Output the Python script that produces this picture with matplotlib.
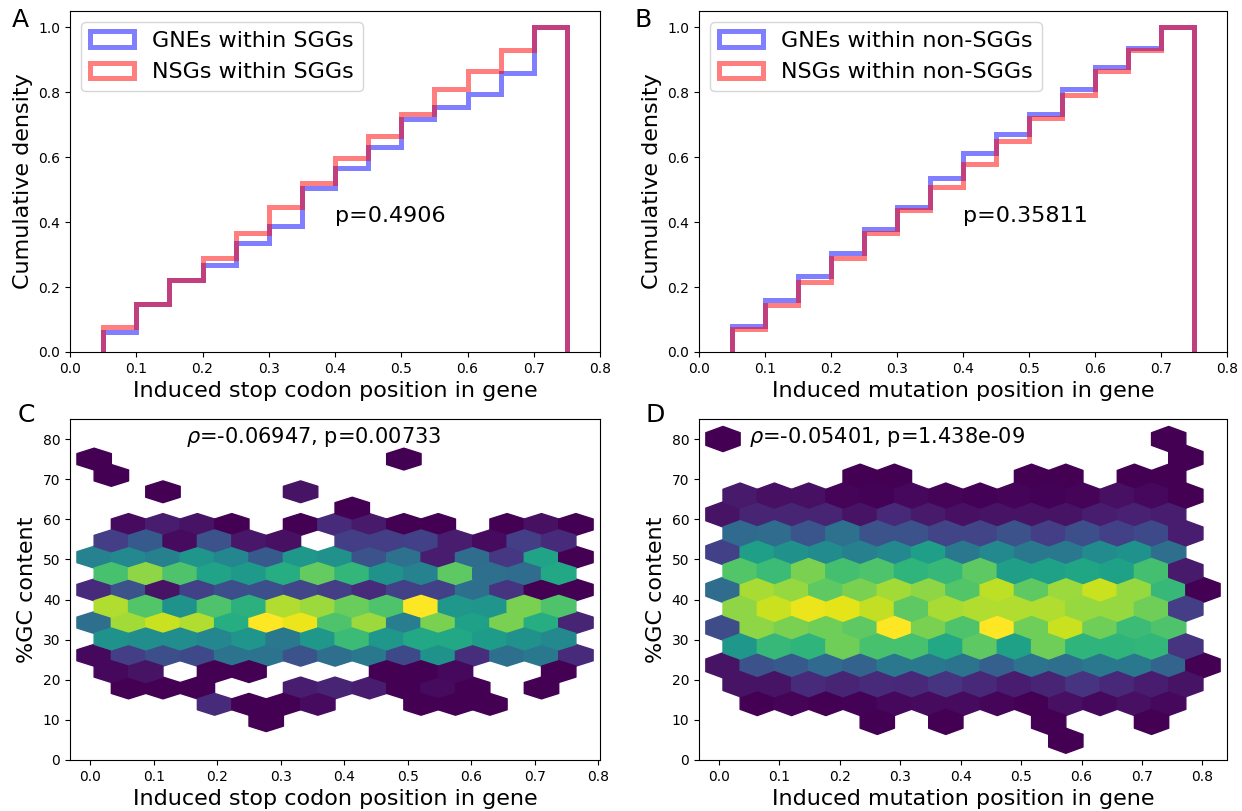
import numpy as np
import matplotlib
matplotlib.use('Agg')
import matplotlib.pyplot as plt

N = None

# ---------------- cumulative histograms (A, B) ----------------
bin_edges = [0.05, 0.10, 0.15, 0.20, 0.25, 0.30, 0.35, 0.40,
             0.45, 0.50, 0.55, 0.60, 0.65, 0.70, 0.75]

a_gne_cum = [0.062, 0.149, 0.221, 0.267, 0.337, 0.388, 0.505,
             0.567, 0.630, 0.718, 0.753, 0.796, 0.859, 1.0]
a_nsg_cum = [0.078, 0.149, 0.221, 0.290, 0.366, 0.445, 0.521,
             0.598, 0.665, 0.733, 0.809, 0.865, 0.931, 1.0]
b_gne_cum = [0.080, 0.160, 0.233, 0.305, 0.379, 0.447, 0.535,
             0.614, 0.672, 0.733, 0.811, 0.878, 0.937, 1.0]
b_nsg_cum = [0.070, 0.145, 0.216, 0.290, 0.365, 0.438, 0.509,
             0.579, 0.651, 0.721, 0.791, 0.864, 0.929, 1.0]

a_labels = ['GNEs within SGGs', 'NSGs within SGGs']
b_labels = ['GNEs within non-SGGs', 'NSGs within non-SGGs']
a_ptext = 'p=0.4906'
b_ptext = 'p=0.35811'

# ---------------- hexbin panels (C, D) ----------------
# hex cell centres (two offset lattices)
c_cols_a = [0.006, 0.060, 0.114, 0.169, 0.223, 0.277, 0.331, 0.385,
            0.440, 0.494, 0.548, 0.602, 0.656, 0.711, 0.765]
c_cols_b = [0.033, 0.087, 0.141, 0.196, 0.250, 0.304, 0.358, 0.412,
            0.467, 0.521, 0.575, 0.629, 0.683, 0.738]
c_rows_y = [75.0, 70.9, 66.8, 62.8, 58.7, 54.6, 50.5, 46.4, 42.4,
            38.3, 34.2, 30.1, 26.1, 22.0, 17.9, 13.9, 9.8]
c_extent = (0.006, 0.765, 9.8, 75.0)
c_grid = (14, 8)

# relative density per cell (top row first), None = empty
c_cells = [
    [0, N, N, N, N, N, N, N, N, 0, N, N, N, N, N],
    [0, N, N, N, N, N, N, N, N, N, N, N, N, N],
    [N, N, 0, N, N, N, 0.5, N, N, N, N, N, N, N, N],
    [N, N, N, N, N, N, N, 0, N, N, N, N, N, N],
    [N, 0.3, 0.8, 0.5, 0, N, 0, 1.2, 0.7, 0, 0, N, 0, 0.4, 0],
    [1.8, 2.8, 0.3, 2.5, 0.6, 0.4, N, 1.8, 1.8, 1.9, 0.8, 0.3, 1.8, 1.2],
    [4.4, 4.7, 4.3, 5.2, 4.6, 2.8, 5.3, 5.0, 2.5, 3.7, 0.8, 3.5, 1.6, 5.8, 0],
    [7.1, 8.3, 7.2, 5.8, 5.4, 6.2, 7.6, 6.6, 5.0, 4.4, 7.5, 3.6, 3.5, 6.0],
    [1.2, 2.5, 0.5, 1.9, 2.4, 2.4, 2.1, 1.8, 1.2, 1.9, 1.9, 3.6, 1.5, 0, 0],
    [8.8, 7.3, 5.1, 7.2, 6.4, 8.8, 8.5, 7.7, 7.2, 10, 5.3, 5.2, 8.0, 7.2],
    [3.6, 8.6, 9.2, 8.8, 6.2, 10, 9.7, 7.2, 8.5, 4.2, 8.0, 5.7, 8.0, 6.2, 1.0],
    [5.1, 4.9, 4.9, 4.6, 5.2, 4.0, 5.3, 6.8, 5.3, 6.0, 6.0, 5.5, 5.0, 4.7],
    [0.2, 1.8, 2.4, 2.2, 3.8, 3.8, 2.5, 3.6, 4.0, 2.2, 5.1, 1.3, 3.6, 4.0, 1.2],
    [0.2, 0.5, N, 0, 0, N, N, N, 0, 0, 0.2, N, N, 0],
    [N, 0, 0, 0, N, N, 0.8, 1.0, 0.8, 0, 0.3, 0, N, 0, N],
    [N, N, N, 1.2, 0, 0, 0.3, N, N, 0, 0, 0, N, N],
    [N, N, N, N, N, 0, N, N, N, N, N, N, N, N, N],
]

d_cols_a = [0.007, 0.063, 0.120, 0.177, 0.234, 0.290, 0.347, 0.404,
            0.461, 0.517, 0.574, 0.631, 0.688, 0.744, 0.801]
d_cols_b = [0.035, 0.092, 0.148, 0.205, 0.262, 0.319, 0.376, 0.432,
            0.489, 0.546, 0.603, 0.659, 0.716, 0.773]
d_rows_y = [80.0, 75.3, 70.6, 65.9, 61.2, 56.5, 51.8, 47.1, 42.4,
            37.7, 33.0, 28.3, 23.6, 18.9, 14.2, 9.5, 4.8]
d_extent = (0.0066, 0.801, 4.8, 80.0)
d_grid = (14, 8)

d_cells = [
    [0, N, N, N, N, N, N, N, N, N, N, N, N, 0, N],
    [N, N, N, N, N, N, N, N, N, N, N, N, N, 0],
    [N, N, N, N, 0, 0, N, N, N, 0, 0, N, 0, 0, N],
    [0.7, 0.4, 0.4, 0.1, 0.05, 0.2, 0.1, 0.05, 0.1, 0.05, 0.1, 0.4, 0.2, 0],
    [0.5, 1.0, 1.0, 1.0, 0.5, 1.1, 0.7, 0.4, 0.5, 0.5, 0.5, 0.8, 0.9, 0.8, N],
    [3.4, 3.5, 2.6, 3.7, 2.5, 2.5, 2.0, 2.0, 2.5, 1.8, 2.4, 1.9, 2.2, 0.8],
    [1.9, 5.6, 5.0, 4.8, 4.3, 4.7, 5.6, 4.0, 4.7, 4.0, 4.0, 4.8, 5.1, 3.6, N],
    [7.3, 6.8, 8.0, 7.0, 7.2, 6.5, 6.7, 7.5, 5.6, 5.7, 5.9, 5.7, 7.0, 0.7],
    [3.5, 8.7, 8.4, 7.5, 8.0, 8.6, 8.3, 7.3, 9.0, 7.5, 8.5, 9.2, 8.4, 6.7, 0],
    [8.3, 9.2, 9.7, 9.6, 9.1, 7.5, 8.7, 8.8, 8.8, 8.8, 8.4, 8.4, 7.8, 1.8],
    [2.3, 8.3, 8.0, 7.8, 7.5, 10, 8.0, 7.2, 10, 7.8, 9.2, 7.8, 6.8, 7.2, N],
    [5.3, 6.7, 6.5, 7.8, 7.1, 7.1, 6.0, 7.5, 5.7, 7.8, 6.5, 6.5, 6.6, 1.5],
    [0.5, 2.5, 2.8, 3.4, 3.1, 4.0, 4.0, 3.8, 3.0, 3.8, 3.6, 4.0, 4.0, 3.2, 0],
    [0.5, 0.5, 1.2, 1.0, 1.2, 1.1, 1.5, 1.1, 0.8, 1.0, 1.5, 1.1, 0.8, 0.5],
    [N, 0, 0.1, 0, 0.05, 0.2, 0.3, 0.3, 0.15, 0, 0.4, 0.2, 0.4, 0.2, N],
    [N, N, N, N, 0, N, 0, N, N, 0, N, N, 0, N],
    [N, N, N, N, N, N, N, N, N, N, 0, N, N, N, N],
]

c_text = r'$\rho$=-0.06947, p=0.00733'
d_text = r'$\rho$=-0.05401, p=1.438e-09'
c_xlabel = 'Induced stop codon position in gene'
d_xlabel = 'Induced mutation position in gene'


def cum_hist(ax, cum, color, label):
    edges = np.asarray(bin_edges)
    cum = np.asarray(cum, dtype=float)
    inc = np.diff(np.concatenate([[0.0], cum]))
    centers = (edges[:-1] + edges[1:]) / 2
    ax.hist(centers, bins=edges, weights=inc, cumulative=True,
            histtype='step', color=color, alpha=0.5, linewidth=3.6,
            label=label)


def hex_points(cells, rows_y, cols_a, cols_b):
    xs, ys, vs = [], [], []
    for k, (row, yv) in enumerate(zip(cells, rows_y)):
        cols = cols_a if k % 2 == 0 else cols_b
        for xv, v in zip(cols, row):
            if v is not None:
                xs.append(xv)
                ys.append(yv)
                vs.append(v)
    return np.array(xs), np.array(ys), np.array(vs)


fig = plt.figure(figsize=(12.42, 8.11), dpi=100)

axA = fig.add_axes([0.0564, 0.566, 0.4267, 0.4204])
axB = fig.add_axes([0.5628, 0.566, 0.4251, 0.4204])
axC = fig.add_axes([0.0564, 0.0629, 0.4267, 0.4205])
axD = fig.add_axes([0.5628, 0.0629, 0.4251, 0.4205])

for ax, g, n, labs, pt, xl in [
        (axA, a_gne_cum, a_nsg_cum, a_labels, a_ptext, c_xlabel),
        (axB, b_gne_cum, b_nsg_cum, b_labels, b_ptext, d_xlabel)]:
    cum_hist(ax, g, 'blue', labs[0])
    cum_hist(ax, n, 'red', labs[1])
    ax.set_xlim(0, 0.8)
    ax.set_ylim(0, 1.05)
    ax.set_xlabel(xl, fontsize=16)
    ax.set_ylabel('Cumulative density', fontsize=16)
    ax.legend(loc='upper left', fontsize=16)
    ax.text(0.4, 0.4, pt, fontsize=16)

for ax, cells, ry, ca, cb, ext, grid, txt, tx, xl in [
        (axC, c_cells, c_rows_y, c_cols_a, c_cols_b, c_extent, c_grid,
         c_text, 0.15, c_xlabel),
        (axD, d_cells, d_rows_y, d_cols_a, d_cols_b, d_extent, d_grid,
         d_text, 0.05, d_xlabel)]:
    x, y, v = hex_points(cells, ry, ca, cb)
    ax.hexbin(x, y, C=v, gridsize=grid, extent=ext,
              reduce_C_function=np.sum, cmap='viridis', vmin=0, vmax=10)
    ax.set_ylim(0, 85)
    ax.set_xlabel(xl, fontsize=16)
    ax.set_ylabel('%GC content', fontsize=16)
    ax.text(tx, 79, txt, fontsize=15)

fig.text(0.0097, 0.990, 'A', fontsize=18, va='top')
fig.text(0.5105, 0.990, 'B', fontsize=18, va='top')
fig.text(0.0145, 0.503, 'C', fontsize=18, va='top')
fig.text(0.5200, 0.503, 'D', fontsize=18, va='top')

fig.savefig('out.png', dpi=100)
